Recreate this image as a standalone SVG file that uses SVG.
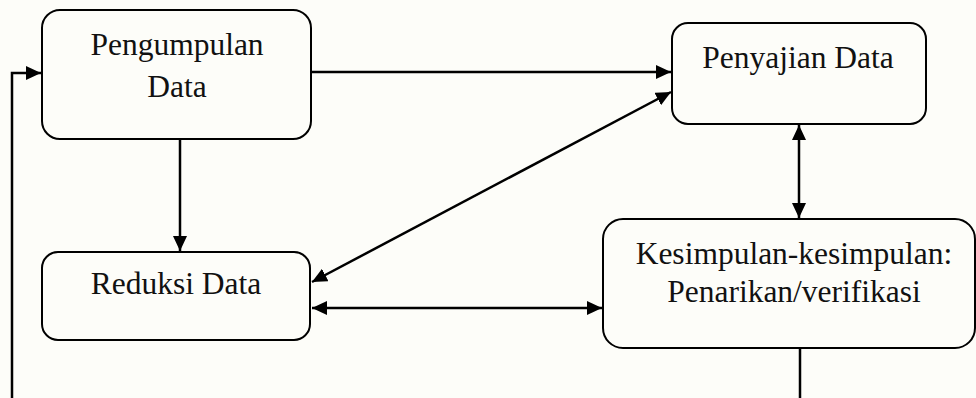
<svg xmlns="http://www.w3.org/2000/svg" width="976" height="398" viewBox="0 0 976 398">
<style>
.box{fill:none;stroke:#000;stroke-width:2}
.t{font-family:"Liberation Serif","Times New Roman",serif;font-size:31.5px;fill:#111;text-anchor:middle}
.c{fill:none;stroke:#000;stroke-width:2.5}
</style>
<defs>
<marker id="ah" markerUnits="userSpaceOnUse" markerWidth="16" markerHeight="14" refX="15" refY="7" orient="auto-start-reverse">
<path d="M0,0 L15,7 L0,14 z" fill="#000"/>
</marker>
</defs>
<rect width="976" height="398" fill="#fdfdf9"/>
<g id="connectors">
<line class="c" x1="311" y1="72" x2="671" y2="72" marker-end="url(#ah)"/>
<line class="c" x1="180" y1="139" x2="180" y2="251" marker-end="url(#ah)"/>
<line class="c" x1="312" y1="282" x2="671" y2="92" marker-start="url(#ah)" marker-end="url(#ah)"/>
<line class="c" x1="312" y1="308" x2="602" y2="308" marker-start="url(#ah)" marker-end="url(#ah)"/>
<line class="c" x1="799" y1="125" x2="799" y2="218" marker-start="url(#ah)" marker-end="url(#ah)"/>
<line class="c" x1="800" y1="348" x2="800" y2="398"/>
<polyline class="c" points="12,398 12,73 41,73" marker-end="url(#ah)"/>
</g>
<g id="pengumpulan">
<rect class="box" x="42" y="10" width="269" height="129" rx="18"/>
<text class="t" x="177" y="55">Pengumpulan</text>
<text class="t" x="177" y="97">Data</text>
</g>
<g id="penyajian">
<rect class="box" x="672" y="23" width="254" height="101" rx="16"/>
<text class="t" x="798" y="68">Penyajian Data</text>
</g>
<g id="reduksi">
<rect class="box" x="42" y="252" width="268" height="88" rx="16"/>
<text class="t" x="176" y="294">Reduksi Data</text>
</g>
<g id="kesimpulan">
<rect class="box" x="603" y="219" width="372" height="129" rx="20"/>
<text class="t" x="794" y="264">Kesimpulan-kesimpulan:</text>
<text class="t" x="794" y="302">Penarikan/verifikasi</text>
</g>
</svg>
